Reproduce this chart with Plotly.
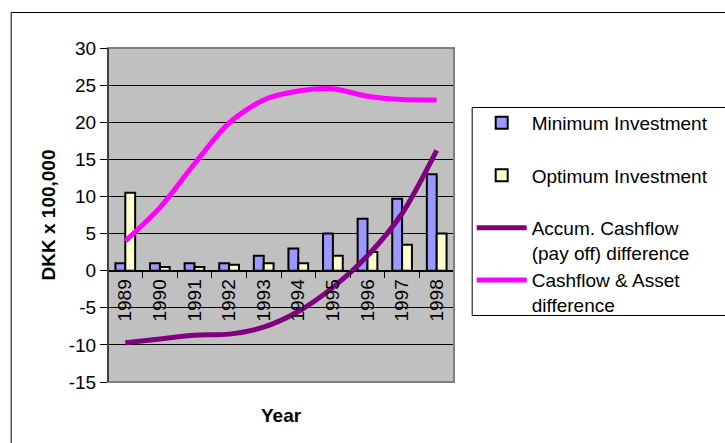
import plotly.graph_objects as go

years = ["1989", "1990", "1991", "1992", "1993", "1994", "1995", "1996", "1997", "1998"]
minimum_investment = [1.0, 1.0, 1.0, 1.0, 2.0, 3.0, 5.0, 7.0, 9.7, 13.0]
optimum_investment = [10.5, 0.5, 0.5, 0.8, 1.0, 1.0, 2.0, 2.5, 3.5, 5.0]
accum_cashflow_diff = [-9.7, -9.2, -8.7, -8.55, -7.6, -5.5, -2.25, 2.0, 7.7, 16.2]
cashflow_asset_diff = [4.0, 8.5, 14.4, 19.9, 23.0, 24.2, 24.5, 23.5, 23.05, 23.0]
y_ticks = [-15, -10, -5, 0, 5, 10, 15, 20, 25, 30]

FONT = "Liberation Sans, Arial, sans-serif"

fig = go.Figure()
fig.add_trace(go.Bar(
    x=years, y=minimum_investment, name="Minimum Investment<br> ",
    marker=dict(color="#9999FF", line=dict(color="black", width=2)),
))
fig.add_trace(go.Bar(
    x=years, y=optimum_investment, name="Optimum Investment<br> ",
    marker=dict(color="#FFFFCC", line=dict(color="black", width=2)),
))
fig.add_trace(go.Scatter(
    x=years, y=accum_cashflow_diff, mode="lines",
    name="Accum. Cashflow<br>(pay off) difference",
    line=dict(color="#800080", width=5, shape="spline", smoothing=0.8),
))
fig.add_trace(go.Scatter(
    x=years, y=cashflow_asset_diff, mode="lines",
    name="Cashflow & Asset<br>difference",
    line=dict(color="#FF00FF", width=5, shape="spline", smoothing=0.8),
))

# plot area spans px 108..460 horizontally and 48..382 vertically
PL, PR, PT, PB = 108, 460, 48, 382
W, H = 725, 443
def px_x(px):
    return (px - PL) / (PR - PL)
def px_y(py):
    return (PB - py) / (PB - PT)

fig.update_layout(
    width=W, height=H,
    margin=dict(l=PL, r=W - PR, t=PT, b=H - PB),
    paper_bgcolor="white",
    plot_bgcolor="#C0C0C0",
    font=dict(family=FONT, size=19, color="black"),
    barmode="group",
    bargap=0.43,
    bargroupgap=0,
    showlegend=True,
    legend=dict(
        x=px_x(478), y=px_y(104), xanchor="left", yanchor="top",
        bgcolor="rgba(0,0,0,0)", borderwidth=0,
        font=dict(family=FONT, size=19, color="black"),
        valign="top", tracegroupgap=0, itemwidth=50,
        entrywidth=170, entrywidthmode="pixels",
    ),
    xaxis=dict(
        type="category",
        anchor="free", position=1 / 3,
        showline=True, linecolor="black", linewidth=1,
        ticks="outside", tickson="boundaries", ticklen=6, tickcolor="black",
        tickangle=-90,
        tickfont=dict(family=FONT, size=19, color="black"),
        showgrid=False,
    ),
    yaxis=dict(
        range=[-15, 30], domain=[0, 1],
        tickmode="array", tickvals=y_ticks, ticktext=[str(v) for v in y_ticks],
        showline=True, linecolor="black", linewidth=1,
        ticks="outside", ticklen=7, tickcolor="black",
        showgrid=True, gridcolor="black", gridwidth=1,
        zeroline=True, zerolinecolor="black", zerolinewidth=1,
        tickfont=dict(family=FONT, size=19, color="black"),
        title=dict(text="<b>DKK x 100,000</b>", standoff=8,
                   font=dict(family=FONT, size=19, color="black")),
    ),
)

# plot area border
fig.add_shape(type="rect", xref="paper", yref="paper", x0=0, x1=1, y0=0, y1=1,
              line=dict(color="#808080", width=2), layer="above")
fig.add_shape(type="line", xref="paper", yref="paper", x0=0, x1=0, y0=0, y1=1,
              line=dict(color="black", width=1), layer="above")
# legend frame
fig.add_shape(type="rect", xref="paper", yref="paper",
              x0=px_x(478.5), x1=px_x(740), y0=px_y(315.5), y1=px_y(107.5),
              line=dict(color="black", width=1), layer="above")
# outer chart border
fig.add_shape(type="rect", xref="paper", yref="paper",
              x0=px_x(9.5), x1=px_x(740), y0=px_y(460), y1=px_y(12.5),
              line=dict(color="black", width=1), layer="above")

fig.add_annotation(text="<b>Year</b>", xref="paper", yref="paper",
                   x=0.5, y=px_y(415), yanchor="middle", showarrow=False,
                   font=dict(family=FONT, size=19, color="black"))

fig.write_html("out.html")
